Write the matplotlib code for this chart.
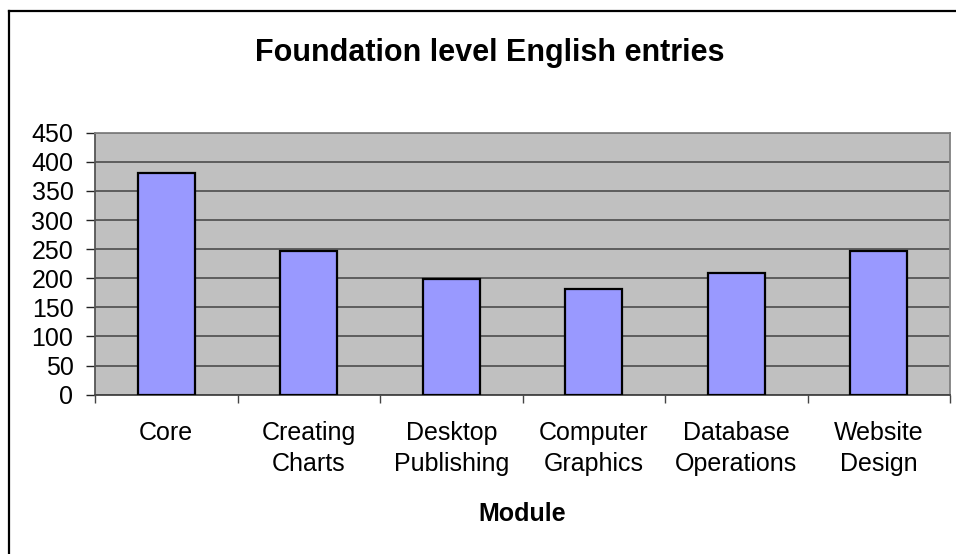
import matplotlib
matplotlib.use("Agg")
import matplotlib.pyplot as plt
from matplotlib.lines import Line2D
import numpy as np

categories = ["Core", "Creating\nCharts", "Desktop\nPublishing", "Computer\nGraphics",
              "Database\nOperations", "Website\nDesign"]
values = [381, 247, 199, 181, 209, 247]
yticks = [0, 50, 100, 150, 200, 250, 300, 350, 400, 450]
title = "Foundation level English entries"
xlabel = "Module"

plt.rcParams['font.family'] = ['Liberation Sans', 'DejaVu Sans']

W, H = 956, 554
fig = plt.figure(figsize=(W / 100, H / 100), dpi=100)
left, right, top, bottom = 95, 950, 132.7, 394.7
ax = fig.add_axes([left / W, 1 - bottom / H, (right - left) / W, (bottom - top) / H])
ax.set_facecolor("#C0C0C0")

x = np.arange(len(categories))
ax.bar(x, values, width=0.4, color="#9999FF", edgecolor="black", linewidth=1.6, zorder=3)

ax.set_xlim(-0.5, len(categories) - 0.5)
ax.set_ylim(0, 450)
ax.set_yticks(yticks)
ax.set_yticklabels([str(v) for v in yticks])
ax.yaxis.grid(True, color="#555555", linewidth=1.3, zorder=1)
ax.set_axisbelow(True)

# category boundaries as major ticks, labels at minor ticks
ax.set_xticks(np.arange(len(categories) + 1) - 0.5)
ax.set_xticklabels([])
ax.set_xticks(x, minor=True)
ax.set_xticklabels(categories, minor=True, fontsize=18, linespacing=1.35)
ax.tick_params(axis="x", which="major", direction="out", length=5.5, width=1, color="#444444")
ax.tick_params(axis="x", which="minor", length=0, pad=19)
ax.tick_params(axis="y", direction="out", length=6.5, width=1, color="#222222", pad=9,
               labelsize=18)
for lbl in ax.get_xticklabels(minor=True):
    lbl.set_verticalalignment("top")

for s in ["top", "right"]:
    ax.spines[s].set_color("#808080")
    ax.spines[s].set_linewidth(1.3)
ax.spines["left"].set_color("#555555")
ax.spines["left"].set_linewidth(1.3)
ax.spines["bottom"].set_color("#444444")
ax.spines["bottom"].set_linewidth(1.3)

fig.text(490 / W, 1 - 53 / H, title, ha="center", va="center", fontsize=22,
         fontweight="bold")
fig.text(522.5 / W, 1 - 514 / H, xlabel, ha="center", va="center", fontsize=18,
         fontweight="bold")

# outer chart border (left and top visible)
fig.add_artist(Line2D([8.8 / W, 8.8 / W], [0, 1 - 10.5 / H], color="black", linewidth=1.6,
                      transform=fig.transFigure))
fig.add_artist(Line2D([8.8 / W, 1], [1 - 10.5 / H, 1 - 10.5 / H], color="black", linewidth=1.6,
                      transform=fig.transFigure))

fig.savefig("out.png", dpi=100, facecolor="white")
